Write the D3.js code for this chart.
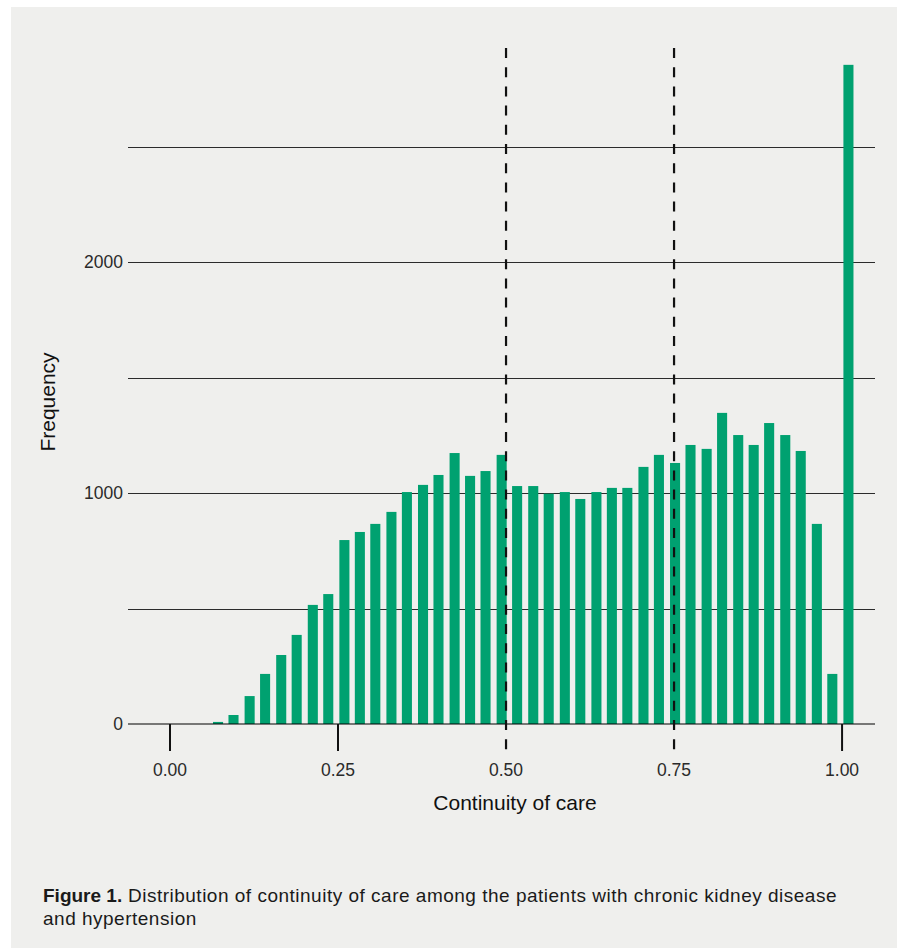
<!DOCTYPE html>
<html>
<head>
<meta charset="utf-8">
<script src="https://cdn.jsdelivr.net/npm/d3@7"></script>
<style>
  body { margin: 0; background: #fff; }
  svg { display: block; font-family: "Liberation Sans", Arial, sans-serif; }
</style>
</head>
<body>
<div id="hist"></div>
<script>
// Histogram of continuity of care (COC index)

// bin left edges (continuity of care) and frequency per bin
const binStart = [0.064, 0.087, 0.111, 0.134, 0.158, 0.181, 0.205, 0.228, 0.252, 0.275,
                  0.298, 0.322, 0.345, 0.369, 0.392, 0.416, 0.439, 0.462, 0.486, 0.509,
                  0.533, 0.556, 0.580, 0.603, 0.627, 0.650, 0.673, 0.697, 0.720, 0.744,
                  0.767, 0.791, 0.814, 0.838, 0.861, 0.884, 0.908, 0.931, 0.955, 0.978,
                  1.002];
const counts = [9, 39, 121, 217, 299, 386, 516, 563, 797, 832,
                867, 919, 1005, 1036, 1079, 1174, 1075, 1096, 1166, 1031,
                1031, 998, 1005, 975, 1005, 1023, 1023, 1114, 1166, 1131,
                1209, 1192, 1348, 1252, 1209, 1304, 1252, 1183, 867, 217,
                2856];
const binWidth = 0.0234;

const xTicks = [0, 0.25, 0.5, 0.75, 1];
const xTickLabels = ["0.00", "0.25", "0.50", "0.75", "1.00"];
const yGrid = [500, 1000, 1500, 2000, 2500];
const yLabels = [0, 1000, 2000];
const quartiles = [0.5, 0.75];   // dashed reference lines

const data = binStart.map((b, i) => ({x0: b, n: counts[i]}));

const W = 897, H = 948;
const svg = d3.select("#hist").append("svg")
    .attr("width", W)
    .attr("height", H);

// grey panel
svg.append("rect")
    .attr("x", 11).attr("y", 7)
    .attr("width", W - 11).attr("height", H - 7)
    .attr("fill", "#efefed");

const x = d3.scaleLinear()
    .domain([-0.0625, 1.049])
    .range([128, 875]);
const y = d3.scaleLinear()
    .domain([0, 2500])
    .range([724, 147]);

// gridlines
svg.selectAll(".grid")
    .data(yGrid)
    .enter()
    .append("line")
        .attr("x1", x.range()[0])
        .attr("x2", x.range()[1])
        .attr("y1", d => Math.round(y(d)) + 0.5)
        .attr("y2", d => Math.round(y(d)) + 0.5)
        .attr("stroke", "#2b2b2b")
        .attr("stroke-width", 1);

// bars
const barW = x(binWidth * 0.64) - x(0);
svg.selectAll(".bar")
    .data(data)
    .enter()
    .append("rect")
        .attr("x", d => x(d.x0))
        .attr("y", d => y(d.n))
        .attr("width", barW)
        .attr("height", d => y(0) - y(d.n))
        .attr("fill", "#00a170");

// zero line over the bars
svg.append("line")
    .attr("x1", x.range()[0])
    .attr("x2", x.range()[1])
    .attr("y1", y(0))
    .attr("y2", y(0))
    .attr("stroke", "#000")
    .attr("stroke-opacity", 0.5)
    .attr("stroke-width", 2);

// x ticks (solid ones), dashed lines cover the quartile ticks
svg.selectAll(".tick")
    .data(xTicks.filter(d => !quartiles.includes(d)))
    .enter()
    .append("line")
        .attr("x1", d => x(d))
        .attr("x2", d => x(d))
        .attr("y1", y(0))
        .attr("y2", y(0) + 27)
        .attr("stroke", "#111")
        .attr("stroke-width", 2);

svg.selectAll(".quart")
    .data(quartiles)
    .enter()
    .append("line")
        .attr("x1", d => x(d))
        .attr("x2", d => x(d))
        .attr("y1", 48)
        .attr("y2", y(0) + 27)
        .attr("stroke", "#111")
        .attr("stroke-width", 2.2)
        .attr("stroke-dasharray", "10,9.2");

// tick labels
svg.selectAll(".xlab")
    .data(xTicks)
    .enter()
    .append("text")
        .attr("x", d => x(d))
        .attr("y", 776)
        .attr("text-anchor", "middle")
        .attr("font-size", 17.5)
        .attr("fill", "#2a2a2a")
        .text((d, i) => xTickLabels[i]);

svg.selectAll(".ylab")
    .data(yLabels)
    .enter()
    .append("text")
        .attr("x", 123)
        .attr("y", d => y(d) + 6)
        .attr("text-anchor", "end")
        .attr("font-size", 17.5)
        .attr("fill", "#2a2a2a")
        .text(d => d);

// axis titles
svg.append("text")
    .attr("x", 515)
    .attr("y", 810)
    .attr("text-anchor", "middle")
    .attr("font-size", 21)
    .attr("fill", "#111")
    .text("Continuity of care");

svg.append("text")
    .attr("transform", "translate(55,402) rotate(-90)")
    .attr("text-anchor", "middle")
    .attr("font-size", 21)
    .attr("fill", "#111")
    .text("Frequency");

// caption
const cap = svg.append("text")
    .attr("x", 43)
    .attr("y", 902)
    .attr("font-size", 19)
    .attr("letter-spacing", 0.5)
    .attr("fill", "#1a1a1a");
cap.append("tspan").attr("font-weight", "bold").attr("letter-spacing", 0).text("Figure 1.");
cap.append("tspan").text(" Distribution of continuity of care among the patients with chronic kidney disease");

svg.append("text")
    .attr("x", 43)
    .attr("y", 925)
    .attr("font-size", 19)
    .attr("letter-spacing", 0.5)
    .attr("fill", "#1a1a1a")
    .text("and hypertension");
</script>
</body>
</html>
